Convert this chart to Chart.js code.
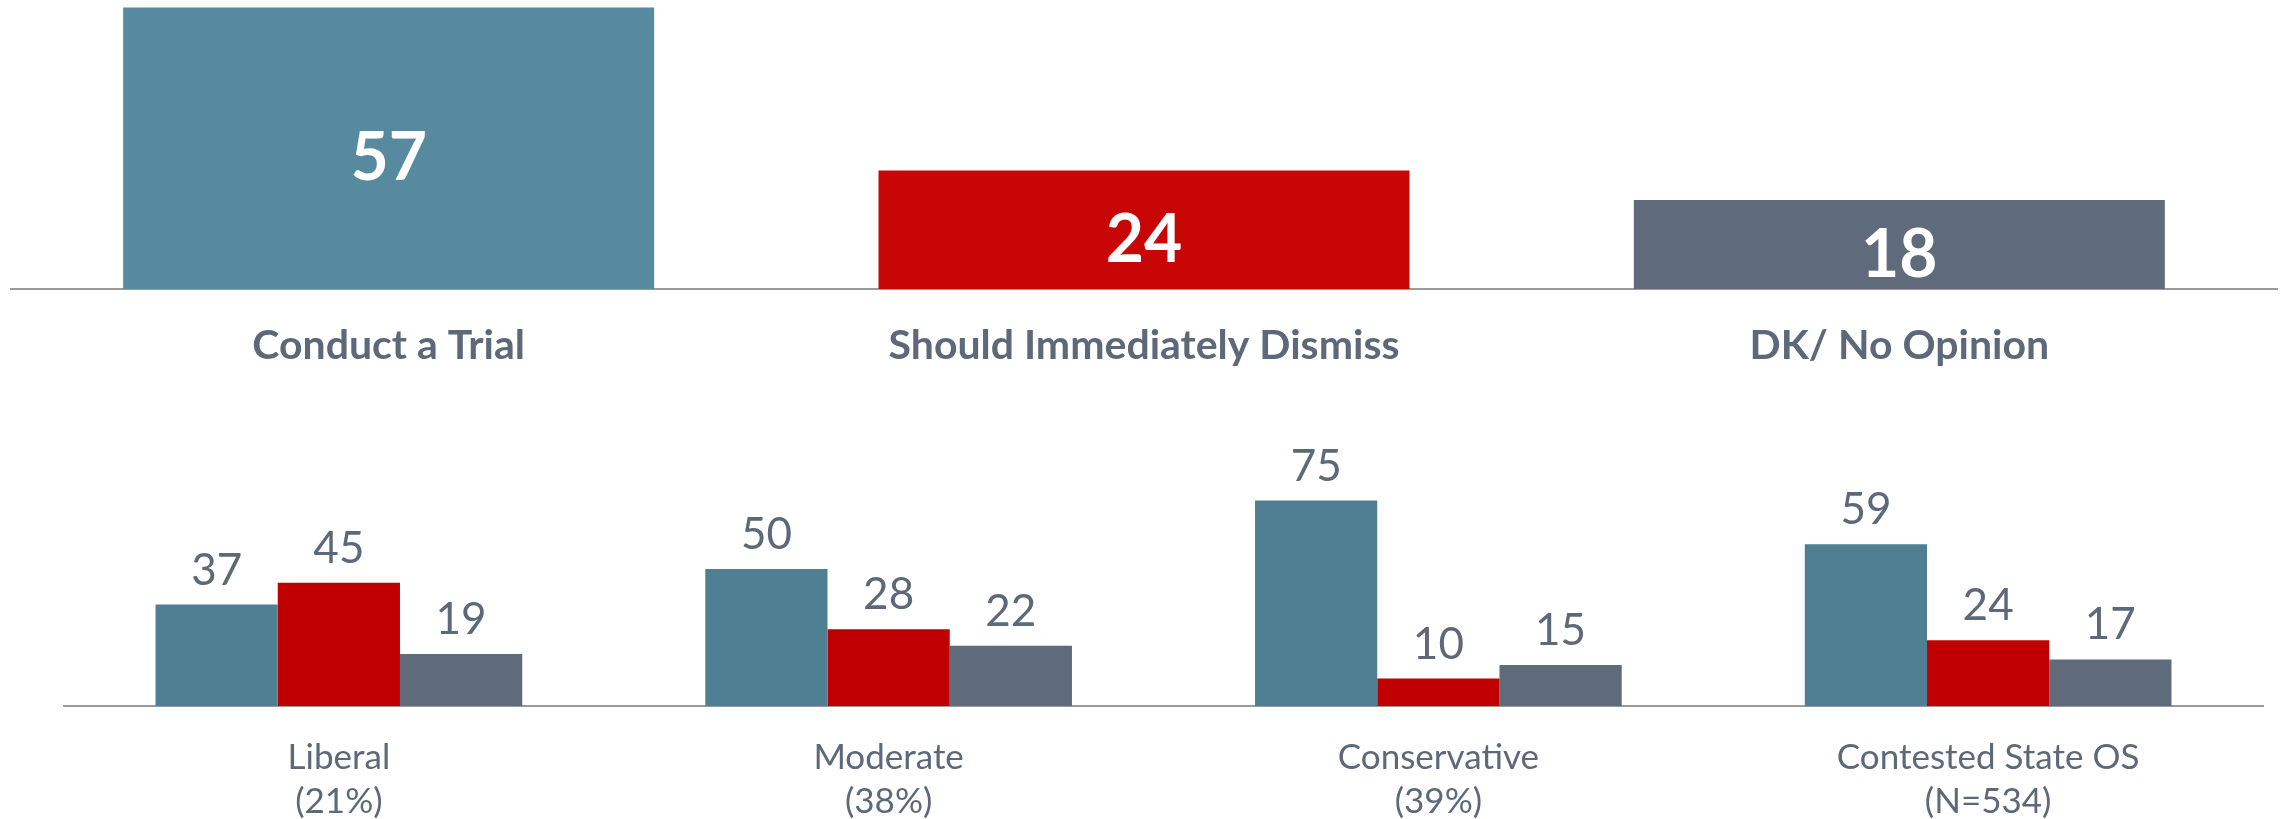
<!DOCTYPE html>
<html>
<head>
<meta charset="utf-8">
<script src="https://cdn.jsdelivr.net/npm/chart.js@4"></script>
<style>
  html, body { margin: 0; padding: 0; background: #ffffff; }
  #wrap { position: relative; width: 2282px; height: 819px; }
  canvas { position: absolute; left: 0; }
  #topChart { top: 0; }
  #groupChart { top: 400px; }
</style>
</head>
<body>
<div id="wrap">
  <canvas id="topChart" width="2282" height="400"></canvas>
  <canvas id="groupChart" width="2282" height="419"></canvas>
</div>
<script>
// Resultado geral
const topCategories = ['Conduct a Trial', 'Should Immediately Dismiss', 'DK/ No Opinion'];
const topValues = [57, 24, 18];

// Por ideologia
const groupCategories = [
    ['Liberal', '(21%)'],
    ['Moderate', '(38%)'],
    ['Conservative', '(39%)'],
    ['Contested State OS', '(N=534)']
];
const trialValues = [37, 50, 75, 59];
const dismissValues = [45, 28, 10, 24];
const noOpinionValues = [19, 22, 15, 17];

const labelGray = '#5d6979';

// Plugin simples para escrever os valores nas barras
const valueLabels = {
    id: 'valueLabels',
    afterDatasetsDraw(chart, args, opts) {
        const ctx = chart.ctx;
        ctx.save();
        ctx.font = opts.font;
        ctx.fillStyle = opts.color;
        ctx.textAlign = 'center';
        chart.data.datasets.forEach((ds, i) => {
            chart.getDatasetMeta(i).data.forEach((bar, j) => {
                const v = ds.data[j];
                if (opts.inside) {
                    ctx.textBaseline = 'middle';
                    ctx.fillText(v, bar.x, (bar.y + bar.base) / 2 + opts.offset);
                } else {
                    ctx.textBaseline = 'alphabetic';
                    ctx.fillText(v, bar.x, bar.y - opts.offset);
                }
            });
        });
        ctx.restore();
    }
};

// Gráfico de cima
new Chart(document.getElementById('topChart'), {
    type: 'bar',
    data: {
        labels: topCategories,
        datasets: [{
            data: topValues,
            backgroundColor: ['#578a9f', '#c80606', '#5f6b7a'],
            categoryPercentage: 0.703,
            barPercentage: 1.0
        }]
    },
    options: {
        responsive: false,
        animation: false,
        devicePixelRatio: 1,
        layout: { padding: { left: 11, right: 5, top: 0, bottom: 0 } },
        plugins: {
            legend: { display: false },
            tooltip: { enabled: false },
            valueLabels: { inside: true, offset: 11, font: 'bold 66px Lato', color: '#ffffff' }
        },
        scales: {
            y: { display: false, min: 0, max: 58.5 },
            x: {
                grid: { display: false, drawTicks: false },
                border: { display: true, color: '#9a9a9a', width: 2 },
                ticks: {
                    color: labelGray,
                    font: { family: 'Lato', size: 41, weight: 'bold' },
                    padding: 32
                },
                afterFit: s => { s.height = 111; }
            }
        }
    },
    plugins: [valueLabels]
});

// Gráfico de baixo
new Chart(document.getElementById('groupChart'), {
    type: 'bar',
    data: {
        labels: groupCategories,
        datasets: [{
            label: 'Conduct a Trial',
            data: trialValues,
            backgroundColor: '#4f7f93'
        }, {
            label: 'Should Immediately Dismiss',
            data: dismissValues,
            backgroundColor: '#c00000'
        }, {
            label: 'DK/ No Opinion',
            data: noOpinionValues,
            backgroundColor: '#5f6b7a'
        }]
    },
    options: {
        responsive: false,
        animation: false,
        devicePixelRatio: 1,
        datasets: { bar: { categoryPercentage: 0.667, barPercentage: 1.0 } },
        layout: { padding: { left: 64, right: 19, top: 32, bottom: 0 } },
        plugins: {
            legend: { display: false },
            tooltip: { enabled: false },
            valueLabels: { inside: false, offset: 20, font: '44px Lato', color: labelGray }
        },
        scales: {
            y: { display: false, min: 0, max: 100 },
            x: {
                grid: { display: false, drawTicks: false },
                border: { display: true, color: '#9a9a9a', width: 2 },
                ticks: {
                    color: labelGray,
                    font: { family: 'Lato', size: 35, lineHeight: 1.28 },
                    padding: 29
                },
                afterFit: s => { s.height = 113; }
            }
        }
    },
    plugins: [valueLabels]
});
</script>
</body>
</html>
